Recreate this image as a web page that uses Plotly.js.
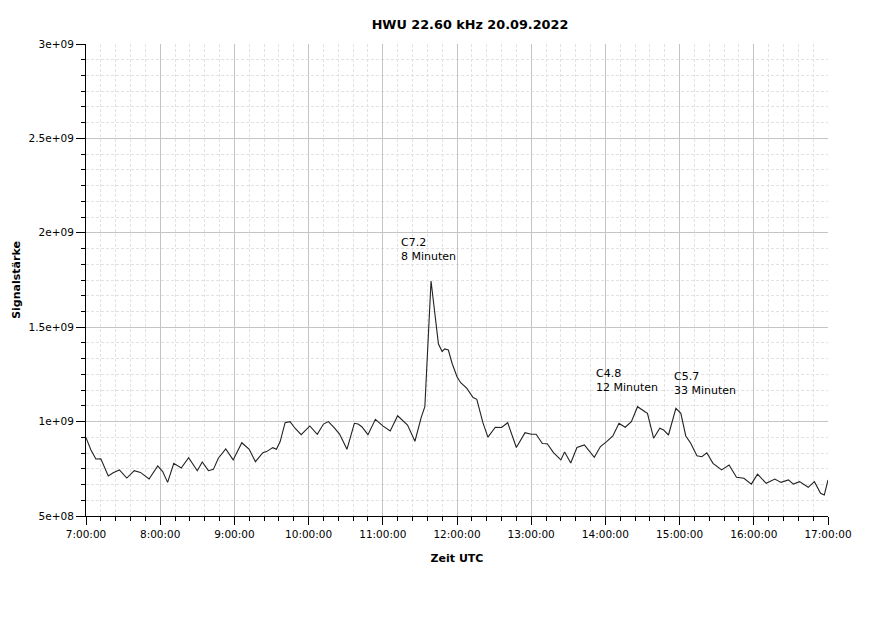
<!DOCTYPE html>
<html>
<head>
<meta charset="utf-8">
<script src="https://cdn.plot.ly/plotly-3.0.1.min.js"></script>
<style>html,body{margin:0;padding:0;background:#fff;}</style>
</head>
<body>
<div id="chart" style="width:873px;height:618px;"></div>
<script>
const day = "2022-09-20";
const times = ["07:00","07:04","07:08","07:12","07:18","07:22","07:27","07:33","07:39","07:44",
"07:51","07:58","08:02","08:06","08:11","08:17","08:23","08:30","08:34","08:39",
"08:43","08:47","08:53","08:59","09:06","09:12","09:17","09:23","09:26","09:31",
"09:34","09:37","09:41","09:45","09:49","09:54","10:01","10:07","10:12","10:16",
"10:21","10:25","10:28","10:31","10:37","10:40","10:43","10:48","10:54","11:00",
"11:06","11:12","11:20","11:26","11:31","11:34","11:39","11:45","11:48","11:50",
"11:53","11:56","12:00","12:03","12:08","12:13","12:16","12:21","12:25","12:31",
"12:36","12:41","12:48","12:55","13:00","13:04","13:09","13:13","13:18","13:24",
"13:27","13:32","13:37","13:43","13:51","13:56","14:01","14:06","14:11","14:16",
"14:21","14:26","14:32","14:34","14:39","14:44","14:47","14:51","14:57","15:01",
"15:05","15:09","15:14","15:18","15:22","15:27","15:34","15:40","15:46","15:52",
"15:58","16:03","16:10","16:17","16:22","16:28","16:32","16:37","16:44","16:49",
"16:54","16:57","17:00"];
const signal = [0.915e9,0.850e9,0.802e9,0.803e9,0.712e9,0.729e9,0.744e9,0.701e9,0.740e9,0.731e9,
0.696e9,0.765e9,0.735e9,0.678e9,0.779e9,0.754e9,0.809e9,0.740e9,0.786e9,0.740e9,
0.747e9,0.806e9,0.855e9,0.797e9,0.888e9,0.853e9,0.788e9,0.835e9,0.841e9,0.862e9,
0.853e9,0.894e9,0.994e9,1.000e9,0.965e9,0.931e9,0.977e9,0.933e9,0.987e9,1.000e9,
0.965e9,0.934e9,0.894e9,0.853e9,0.991e9,0.987e9,0.973e9,0.931e9,1.012e9,0.977e9,
0.950e9,1.031e9,0.982e9,0.896e9,1.021e9,1.079e9,1.745e9,1.411e9,1.371e9,1.385e9,
1.379e9,1.309e9,1.238e9,1.206e9,1.176e9,1.127e9,1.118e9,0.993e9,0.918e9,0.970e9,
0.969e9,0.994e9,0.863e9,0.941e9,0.933e9,0.933e9,0.884e9,0.883e9,0.836e9,0.797e9,
0.839e9,0.781e9,0.863e9,0.876e9,0.811e9,0.868e9,0.894e9,0.924e9,0.991e9,0.970e9,
1.000e9,1.079e9,1.052e9,1.044e9,0.912e9,0.965e9,0.956e9,0.929e9,1.070e9,1.044e9,
0.924e9,0.885e9,0.819e9,0.814e9,0.835e9,0.779e9,0.744e9,0.770e9,0.705e9,0.700e9,
0.669e9,0.722e9,0.673e9,0.696e9,0.678e9,0.691e9,0.669e9,0.682e9,0.652e9,0.682e9,
0.620e9,0.611e9,0.691e9];

const yTickVals = [5e8, 1e9, 1.5e9, 2e9, 2.5e9, 3e9];
const yTickText = ["5e+08", "1e+09", "1.5e+09", "2e+09", "2.5e+09", "3e+09"];

const noteTimes = ["11:13:30", "13:51:30", "14:54:30"];
const noteValues = [1.835e9, 1.14e9, 1.125e9];
const noteTexts = ["C7.2<br>8 Minuten", "C4.8<br>12 Minuten", "C5.7<br>33 Minuten"];

const FONT = "DejaVu Sans";

const trace = {
  type: "scatter",
  mode: "lines",
  x: times.map(t => day + " " + t),
  y: signal,
  line: {color: "#222222", width: 1.1},
  hoverinfo: "skip",
  showlegend: false
};

const annotations = noteTexts.map((txt, i) => ({
  xref: "x", yref: "y",
  x: day + " " + noteTimes[i],
  y: noteValues[i],
  text: txt,
  showarrow: false,
  xanchor: "left",
  yanchor: "bottom",
  align: "left",
  borderpad: 0,
  font: {family: FONT, size: 11, color: "#000"}
}));

const layout = {
  width: 873,
  height: 618,
  paper_bgcolor: "#ffffff",
  plot_bgcolor: "#ffffff",
  margin: {l: 86, r: 45, t: 44, b: 102},
  font: {family: FONT, color: "#000"},
  title: {
    text: "<b>HWU 22.60 kHz 20.09.2022</b>",
    font: {family: FONT, size: 12.8, color: "#000"},
    xref: "paper", x: 0.5175, xanchor: "center",
    yref: "container", y: 0.961, yanchor: "middle"
  },
  xaxis: {
    type: "date",
    range: [day + " 07:00", day + " 17:00"],
    tick0: day + " 07:00",
    dtick: 3600000,
    tickformat: "%-H:%M:%S",
    ticks: "outside",
    ticklen: 8,
    tickwidth: 1,
    tickcolor: "#000",
    showline: true,
    linecolor: "#000",
    linewidth: 1,
    showgrid: true,
    gridcolor: "#c4c4c4",
    gridwidth: 1,
    zeroline: false,
    tickfont: {family: FONT, size: 10.5, color: "#000"},
    minor: {
      dtick: 720000,
      ticks: "outside",
      ticklen: 4,
      tickcolor: "#000",
      showgrid: true,
      gridcolor: "#e2e2e2",
      griddash: "3px,2px",
      gridwidth: 1
    },
    title: {text: "<b>Zeit UTC</b>", font: {family: FONT, size: 11, color: "#000"}, standoff: 15}
  },
  yaxis: {
    range: [5e8, 3e9],
    tickvals: yTickVals,
    ticktext: yTickText,
    ticks: "outside",
    ticklen: 9,
    tickwidth: 1,
    tickcolor: "#000",
    showline: true,
    linecolor: "#000",
    linewidth: 1,
    showgrid: true,
    gridcolor: "#c4c4c4",
    gridwidth: 1,
    zeroline: false,
    tickfont: {family: FONT, size: 10.5, color: "#000"},
    minor: {
      tick0: 5e8,
      dtick: 5e8 / 6,
      ticks: "outside",
      ticklen: 4,
      tickcolor: "#000",
      showgrid: true,
      gridcolor: "#e2e2e2",
      griddash: "3px,2px",
      gridwidth: 1
    },
    title: {text: "<b>Signalstärke</b>", font: {family: FONT, size: 11, color: "#000"}, standoff: 5}
  },
  annotations: annotations
};

Plotly.newPlot("chart", [trace], layout, {displayModeBar: false, staticPlot: true});
</script>
</body>
</html>
